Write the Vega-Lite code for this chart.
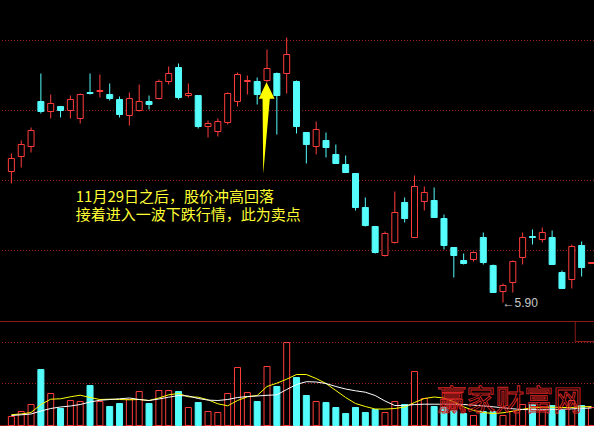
{
  "$schema": "https://vega.github.io/schema/vega-lite/v6.json",
  "width": 594,
  "height": 426,
  "padding": 0,
  "autosize": {"type": "none"},
  "background": "#000000",
  "config": {"view": {"stroke": null}},
  "data": {
    "values": [
      {"i": 1, "o": 7.21, "c": 7.34, "h": 7.39, "l": 7.09, "v": 9, "m5": 10.8, "m10": 10},
      {"i": 2, "o": 7.36, "c": 7.48, "h": 7.52, "l": 7.25, "v": 14, "m5": 11.5, "m10": 10.7},
      {"i": 3, "o": 7.46, "c": 7.62, "h": 7.65, "l": 7.40, "v": 21, "m5": 13, "m10": 11.5},
      {"i": 4, "o": 7.91, "c": 7.81, "h": 8.19, "l": 7.79, "v": 56, "m5": 21, "m10": 14.5},
      {"i": 5, "o": 7.81, "c": 7.89, "h": 7.98, "l": 7.74, "v": 32, "m5": 26.3, "m10": 17},
      {"i": 6, "o": 7.86, "c": 7.82, "h": 7.86, "l": 7.75, "v": 17, "m5": 26.7, "m10": 18.5},
      {"i": 7, "o": 7.82, "c": 7.93, "h": 7.97, "l": 7.74, "v": 25, "m5": 28.7, "m10": 19.5},
      {"i": 8, "o": 7.74, "c": 7.98, "h": 7.99, "l": 7.69, "v": 24, "m5": 30.3, "m10": 21},
      {"i": 9, "o": 8.00, "c": 7.99, "h": 8.19, "l": 7.98, "v": 40, "m5": 28, "m10": 23.5},
      {"i": 10, "o": 8.01, "c": 8.02, "h": 8.18, "l": 7.95, "v": 24, "m5": 26, "m10": 25.2},
      {"i": 11, "o": 7.98, "c": 7.94, "h": 8.09, "l": 7.92, "v": 19, "m5": 26.3, "m10": 26},
      {"i": 12, "o": 7.93, "c": 7.78, "h": 7.96, "l": 7.75, "v": 22, "m5": 26, "m10": 26.7},
      {"i": 13, "o": 7.77, "c": 7.94, "h": 8.00, "l": 7.67, "v": 26, "m5": 25.7, "m10": 27.5},
      {"i": 14, "o": 7.82, "c": 7.91, "h": 8.08, "l": 7.81, "v": 34, "m5": 26, "m10": 26},
      {"i": 15, "o": 7.91, "c": 7.88, "h": 7.97, "l": 7.83, "v": 22, "m5": 25, "m10": 25},
      {"i": 16, "o": 7.94, "c": 8.11, "h": 8.13, "l": 7.93, "v": 35, "m5": 27.5, "m10": 26.5},
      {"i": 17, "o": 8.11, "c": 8.19, "h": 8.26, "l": 8.08, "v": 35, "m5": 30.7, "m10": 28.3},
      {"i": 18, "o": 8.25, "c": 7.95, "h": 8.29, "l": 7.93, "v": 34, "m5": 32, "m10": 30},
      {"i": 19, "o": 7.97, "c": 7.99, "h": 8.09, "l": 7.95, "v": 18, "m5": 28.7, "m10": 29.5},
      {"i": 20, "o": 7.97, "c": 7.66, "h": 7.97, "l": 7.64, "v": 23, "m5": 28.3, "m10": 27},
      {"i": 21, "o": 7.66, "c": 7.69, "h": 7.72, "l": 7.55, "v": 14, "m5": 25.7, "m10": 25.4},
      {"i": 22, "o": 7.61, "c": 7.71, "h": 7.74, "l": 7.56, "v": 13, "m5": 21.7, "m10": 25},
      {"i": 23, "o": 7.70, "c": 7.99, "h": 8.00, "l": 7.68, "v": 32, "m5": 19.7, "m10": 26},
      {"i": 24, "o": 7.91, "c": 8.18, "h": 8.20, "l": 7.86, "v": 58, "m5": 25, "m10": 28},
      {"i": 25, "o": 8.11, "c": 8.12, "h": 8.17, "l": 7.98, "v": 33, "m5": 28.7, "m10": 29},
      {"i": 26, "o": 8.11, "c": 7.98, "h": 8.15, "l": 7.88, "v": 24, "m5": 30, "m10": 29.5},
      {"i": 27, "o": 8.12, "c": 8.24, "h": 8.43, "l": 8.10, "v": 59, "m5": 39, "m10": 30.2},
      {"i": 28, "o": 8.19, "c": 7.97, "h": 8.20, "l": 7.58, "v": 39, "m5": 42.3, "m10": 30.7},
      {"i": 29, "o": 8.19, "c": 8.38, "h": 8.55, "l": 7.99, "v": 83, "m5": 46.3, "m10": 36},
      {"i": 30, "o": 8.11, "c": 7.66, "h": 8.12, "l": 7.59, "v": 48, "m5": 51, "m10": 41},
      {"i": 31, "o": 7.60, "c": 7.48, "h": 7.60, "l": 7.29, "v": 30, "m5": 51, "m10": 43.8},
      {"i": 32, "o": 7.46, "c": 7.63, "h": 7.71, "l": 7.38, "v": 24, "m5": 47, "m10": 43.5},
      {"i": 33, "o": 7.52, "c": 7.45, "h": 7.60, "l": 7.35, "v": 23, "m5": 42, "m10": 42},
      {"i": 34, "o": 7.38, "c": 7.29, "h": 7.48, "l": 7.29, "v": 18, "m5": 35, "m10": 39},
      {"i": 35, "o": 7.28, "c": 7.20, "h": 7.37, "l": 7.20, "v": 12, "m5": 28, "m10": 36.5},
      {"i": 36, "o": 7.19, "c": 6.85, "h": 7.19, "l": 6.82, "v": 18, "m5": 22, "m10": 34.7},
      {"i": 37, "o": 6.85, "c": 6.67, "h": 6.95, "l": 6.66, "v": 13, "m5": 19, "m10": 33.3},
      {"i": 38, "o": 6.66, "c": 6.40, "h": 6.66, "l": 6.39, "v": 16, "m5": 16.5, "m10": 30},
      {"i": 39, "o": 6.37, "c": 6.59, "h": 6.61, "l": 6.36, "v": 13, "m5": 16.4, "m10": 24.5},
      {"i": 40, "o": 6.50, "c": 6.80, "h": 7.01, "l": 6.49, "v": 24, "m5": 17, "m10": 20},
      {"i": 41, "o": 6.90, "c": 6.74, "h": 6.95, "l": 6.70, "v": 21, "m5": 18.5, "m10": 20},
      {"i": 42, "o": 6.55, "c": 7.06, "h": 7.17, "l": 6.55, "v": 54, "m5": 23, "m10": 21},
      {"i": 43, "o": 6.91, "c": 7.00, "h": 7.06, "l": 6.82, "v": 27, "m5": 27, "m10": 21.3},
      {"i": 44, "o": 6.92, "c": 6.75, "h": 7.05, "l": 6.75, "v": 19, "m5": 28.5, "m10": 21.3},
      {"i": 45, "o": 6.74, "c": 6.47, "h": 6.78, "l": 6.43, "v": 18, "m5": 27.5, "m10": 21.3},
      {"i": 46, "o": 6.45, "c": 6.37, "h": 6.45, "l": 6.15, "v": 15, "m5": 23.7, "m10": 21.3},
      {"i": 47, "o": 6.32, "c": 6.29, "h": 6.39, "l": 6.28, "v": 12, "m5": 18.7, "m10": 21},
      {"i": 48, "o": 6.33, "c": 6.40, "h": 6.41, "l": 6.31, "v": 10, "m5": 15, "m10": 20.3},
      {"i": 49, "o": 6.55, "c": 6.30, "h": 6.60, "l": 6.28, "v": 14, "m5": 13, "m10": 19.6},
      {"i": 50, "o": 6.27, "c": 6.00, "h": 6.28, "l": 6.00, "v": 14, "m5": 12, "m10": 18.7},
      {"i": 51, "o": 6.01, "c": 6.07, "h": 6.09, "l": 5.90, "v": 10, "m5": 12.7, "m10": 17.7},
      {"i": 52, "o": 6.10, "c": 6.31, "h": 6.32, "l": 6.00, "v": 14, "m5": 14.3, "m10": 16.7},
      {"i": 53, "o": 6.35, "c": 6.55, "h": 6.60, "l": 6.28, "v": 21, "m5": 16.2, "m10": 16},
      {"i": 54, "o": 6.56, "c": 6.55, "h": 6.63, "l": 6.48, "v": 21, "m5": 17.8, "m10": 15.7},
      {"i": 55, "o": 6.53, "c": 6.60, "h": 6.65, "l": 6.50, "v": 15, "m5": 18.3, "m10": 15.7},
      {"i": 56, "o": 6.55, "c": 6.28, "h": 6.62, "l": 6.28, "v": 20, "m5": 18.3, "m10": 15.9},
      {"i": 57, "o": 6.20, "c": 6.04, "h": 6.22, "l": 6.04, "v": 15, "m5": 18, "m10": 16.2},
      {"i": 58, "o": 6.13, "c": 6.46, "h": 6.48, "l": 6.04, "v": 25, "m5": 18, "m10": 16.6},
      {"i": 59, "o": 6.47, "c": 6.25, "h": 6.51, "l": 6.16, "v": 20, "m5": 18.7, "m10": 17.1},
      {"i": 60, "o": 6.29, "c": 6.30, "h": 6.30, "l": 6.29, "v": 18, "m5": 19, "m10": 17.5}
    ]
  },
  "layer": [
    {
      "layer": [
        {
          "data": {"values": [{"p": 8.52}, {"p": 7.82}, {"p": 7.12}, {"p": 6.42}]},
          "mark": {"type": "rule", "color": "#9a2020", "strokeWidth": 1, "strokeDash": [1, 2]},
          "encoding": {
            "y": {"field": "p", "type": "quantitative", "axis": null, "scale": {"domain": [4.665, 8.925], "nice": false, "zero": false}}
          }
        },
        {
          "mark": {"type": "rule", "strokeWidth": 1, "clip": true},
          "encoding": {
            "x": {"field": "i", "type": "quantitative", "axis": null, "scale": {"domain": [0.35, 59.75], "nice": false, "zero": false}},
            "y": {"field": "l", "type": "quantitative", "axis": null, "scale": {"domain": [4.665, 8.925], "nice": false, "zero": false}},
            "y2": {"field": "h"},
            "color": {"condition": {"test": "datum.c >= datum.o", "value": "#ff3c3c"}, "value": "#54fcfc"}
          }
        },
        {
          "mark": {"type": "bar", "size": 6, "strokeWidth": 1, "clip": true},
          "encoding": {
            "x": {"field": "i", "type": "quantitative", "axis": null, "scale": {"domain": [0.35, 59.75], "nice": false, "zero": false}},
            "y": {"field": "o", "type": "quantitative", "axis": null, "scale": {"domain": [4.665, 8.925], "nice": false, "zero": false}},
            "y2": {"field": "c"},
            "fill": {"condition": {"test": "datum.c >= datum.o", "value": "#000000"}, "value": "#54fcfc"},
            "stroke": {"condition": {"test": "datum.c >= datum.o", "value": "#ff3c3c"}, "value": "#54fcfc"}
          }
        },
        {
          "data": {"values": [{}]},
          "mark": {"type": "point", "shape": "M0,-1 L0.175,-0.638 L0.072,-0.638 L-0.072,1 L-0.087,-0.638 L-0.168,-0.638 Z", "filled": true, "opacity": 1, "fill": "#ffff00", "strokeWidth": 0, "size": 8390},
          "encoding": {
            "x": {"datum": 26.95, "type": "quantitative", "scale": {"domain": [0.35, 59.75], "nice": false, "zero": false}},
            "y": {"datum": 7.645, "type": "quantitative", "scale": {"domain": [4.665, 8.925], "nice": false, "zero": false}}
          }
        },
        {
          "data": {"values": [{"t": "11月29日之后，股价冲高回落\n接着进入一波下跌行情，此为卖点", "p": 6.955}]},
          "mark": {"type": "text", "align": "left", "baseline": "middle", "lineBreak": "\n", "lineHeight": 17.6, "font": "Noto Sans CJK SC", "fontSize": 15, "color": "#ffff33"},
          "encoding": {
            "x": {"datum": 7.55, "type": "quantitative", "scale": {"domain": [0.35, 59.75], "nice": false, "zero": false}},
            "y": {"field": "p", "type": "quantitative", "scale": {"domain": [4.665, 8.925], "nice": false, "zero": false}},
            "text": {"field": "t"}
          }
        },
        {
          "data": {"values": [{"t": "←5.90", "p": 5.90}]},
          "mark": {"type": "text", "align": "left", "baseline": "middle", "font": "Liberation Sans", "fontSize": 12, "color": "#c8c8c8"},
          "encoding": {
            "x": {"datum": 50.95, "type": "quantitative", "scale": {"domain": [0.35, 59.75], "nice": false, "zero": false}},
            "y": {"field": "p", "type": "quantitative", "scale": {"domain": [4.665, 8.925], "nice": false, "zero": false}},
            "text": {"field": "t"}
          }
        }
      ]
    },
    {
      "layer": [
        {
          "data": {"values": [{"g": 104}, {"g": 0}]},
          "mark": {"type": "rule", "color": "#8b1a1a", "strokeWidth": 1},
          "encoding": {
            "y": {"field": "g", "type": "quantitative", "axis": null, "scale": {"domain": [-0.5, 425.5], "nice": false, "zero": false}}
          }
        },
        {
          "data": {"values": [{"g": 83}, {"g": 42}]},
          "mark": {"type": "rule", "color": "#9a2020", "strokeWidth": 1, "strokeDash": [1, 2]},
          "encoding": {
            "y": {"field": "g", "type": "quantitative", "axis": null, "scale": {"domain": [-0.5, 425.5], "nice": false, "zero": false}}
          }
        },
        {
          "mark": {"type": "bar", "size": 6, "strokeWidth": 1, "clip": true},
          "encoding": {
            "x": {"field": "i", "type": "quantitative", "axis": null, "scale": {"domain": [0.35, 59.75], "nice": false, "zero": false}},
            "y": {"field": "v", "type": "quantitative", "axis": null, "scale": {"domain": [-0.5, 425.5], "nice": false, "zero": false}},
            "y2": {"datum": 0},
            "fill": {"condition": {"test": "datum.c >= datum.o", "value": "#000000"}, "value": "#54fcfc"},
            "stroke": {"condition": {"test": "datum.c >= datum.o", "value": "#ff3c3c"}, "value": "#54fcfc"}
          }
        },
        {
          "mark": {"type": "line", "color": "#ffff00", "strokeWidth": 1, "clip": true},
          "encoding": {
            "x": {"field": "i", "type": "quantitative", "axis": null, "scale": {"domain": [0.35, 59.75], "nice": false, "zero": false}},
            "y": {"field": "m5", "type": "quantitative", "axis": null, "scale": {"domain": [-0.5, 425.5], "nice": false, "zero": false}}
          }
        },
        {
          "mark": {"type": "line", "color": "#ffffff", "strokeWidth": 1, "clip": true},
          "encoding": {
            "x": {"field": "i", "type": "quantitative", "axis": null, "scale": {"domain": [0.35, 59.75], "nice": false, "zero": false}},
            "y": {"field": "m10", "type": "quantitative", "axis": null, "scale": {"domain": [-0.5, 425.5], "nice": false, "zero": false}}
          }
        },
        {
          "data": {"values": [{}]},
          "mark": {"type": "rect", "fill": "transparent", "stroke": "#8b1a1a", "strokeWidth": 1, "clip": true},
          "encoding": {
            "x": {"datum": 58.35, "type": "quantitative", "scale": {"domain": [0.35, 59.75], "nice": false, "zero": false}},
            "x2": {"datum": 61},
            "y": {"datum": 104, "type": "quantitative", "scale": {"domain": [-0.5, 425.5], "nice": false, "zero": false}},
            "y2": {"datum": 84}
          }
        },
        {
          "data": {"values": [{"t": "赢家财富网"}]},
          "mark": {"type": "text", "align": "center", "baseline": "middle", "font": "Noto Sans CJK SC", "fontSize": 29, "fill": "transparent", "stroke": "#d42424", "strokeWidth": 0.9},
          "encoding": {
            "x": {"datum": 51.7, "type": "quantitative", "scale": {"domain": [0.35, 59.75], "nice": false, "zero": false}},
            "y": {"datum": 23.5, "type": "quantitative", "scale": {"domain": [-0.5, 425.5], "nice": false, "zero": false}},
            "text": {"field": "t"}
          }
        }
      ]
    }
  ],
  "resolve": {"scale": {"y": "independent"}}
}
